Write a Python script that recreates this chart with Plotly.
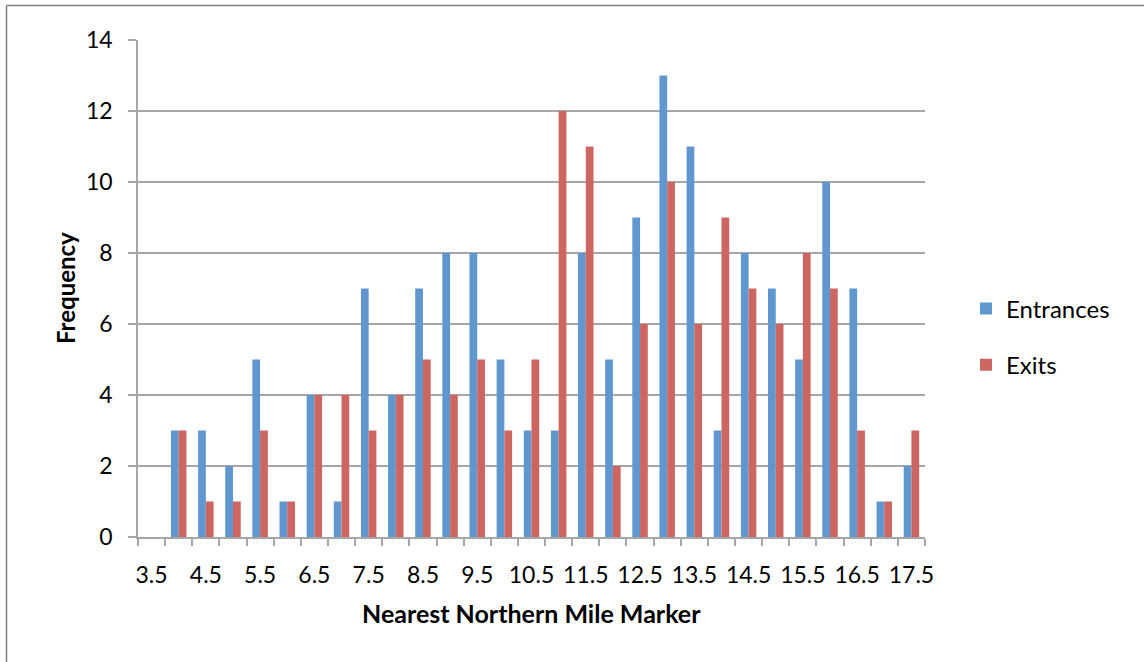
import plotly.graph_objects as go

categories = [3.5, 4, 4.5, 5, 5.5, 6, 6.5, 7, 7.5, 8, 8.5, 9, 9.5, 10, 10.5,
              11, 11.5, 12, 12.5, 13, 13.5, 14, 14.5, 15, 15.5, 16, 16.5, 17, 17.5]
entrances = [0, 3, 3, 2, 5, 1, 4, 1, 7, 4, 7, 8, 8, 5, 3,
             3, 8, 5, 9, 13, 11, 3, 8, 7, 5, 10, 7, 1, 2]
exits = [0, 3, 1, 1, 3, 1, 4, 4, 3, 4, 5, 4, 5, 3, 5,
         12, 11, 2, 6, 10, 6, 9, 7, 6, 8, 7, 3, 1, 3]
tick_labels = ["3.5", "4.5", "5.5", "6.5", "7.5", "8.5", "9.5", "10.5", "11.5",
               "12.5", "13.5", "14.5", "15.5", "16.5", "17.5"]
y_ticks = [0, 2, 4, 6, 8, 10, 12, 14]

FONT = "Lato, Carlito, Calibri, sans-serif"
GRID = "#A6A6A6"

fig = go.Figure()
fig.add_trace(go.Bar(x=categories, y=entrances, name="Entrances",
                     marker=dict(color="#6097CE", line=dict(width=0)),
                     legendgroup="a"))
fig.add_trace(go.Bar(x=categories, y=exits, name="Exits",
                     marker=dict(color="#CD6660", line=dict(width=0)),
                     legendgroup="b"))

W, H = 1144, 662
L, R, T, B = 138, 925, 40, 537
pw, ph = R - L, B - T

def px(x):
    return (x - L) / pw

def py(y):
    return (B - y) / ph

fig.update_layout(
    width=W, height=H,
    margin=dict(l=L, r=W - R, t=T, b=H - B, pad=0),
    paper_bgcolor="white", plot_bgcolor="white",
    barmode="group", bargap=0.43, bargroupgap=0,
    font=dict(family=FONT, size=23, color="black"),
    showlegend=True,
    legend=dict(x=px(966), y=py(337), xanchor="left", yanchor="middle",
                font=dict(size=24, family=FONT), tracegroupgap=22,
                itemwidth=30, bgcolor="rgba(0,0,0,0)"),
    xaxis=dict(
        range=[3.25, 17.75], tickmode="array",
        tickvals=[float(t) for t in tick_labels], ticktext=tick_labels,
        ticks="", showgrid=False, zeroline=False,
        showline=True, linecolor=GRID, linewidth=1.5,
        ticklabelstandoff=17,
        tickfont=dict(size=23, family=FONT),
        minor=dict(tick0=3.25, dtick=0.5, ticks="outside", ticklen=7,
                   tickcolor=GRID, tickwidth=1.5, showgrid=False),
        fixedrange=True,
    ),
    yaxis=dict(
        range=[0, 14], tickmode="array", tickvals=y_ticks,
        ticks="outside", ticklen=8, tickcolor=GRID, tickwidth=1.5,
        showgrid=True, gridcolor=GRID, gridwidth=1.5,
        zeroline=False, showline=True, linecolor=GRID, linewidth=1.5,
        ticklabelstandoff=11,
        tickfont=dict(size=23, family=FONT),
        fixedrange=True,
    ),
    annotations=[
        dict(text="<b>Frequency</b>", x=px(65), y=py(288), xref="paper", yref="paper",
             textangle=-90, showarrow=False, font=dict(size=24, family=FONT),
             xanchor="center", yanchor="middle"),
        dict(text="<b>Nearest Northern Mile Marker</b>", x=px(531), y=py(613),
             xref="paper", yref="paper", showarrow=False,
             font=dict(size=25, family=FONT), xanchor="center", yanchor="middle"),
    ],
    shapes=[
        dict(type="line", xref="paper", yref="paper", x0=px(6.5), x1=px(1144),
             y0=py(5.5), y1=py(5.5), line=dict(color="#808080", width=1.5)),
        dict(type="line", xref="paper", yref="paper", x0=px(6.5), x1=px(6.5),
             y0=py(5.5), y1=py(662), line=dict(color="#808080", width=1.5)),
    ],
)

fig.write_html("out.html")
